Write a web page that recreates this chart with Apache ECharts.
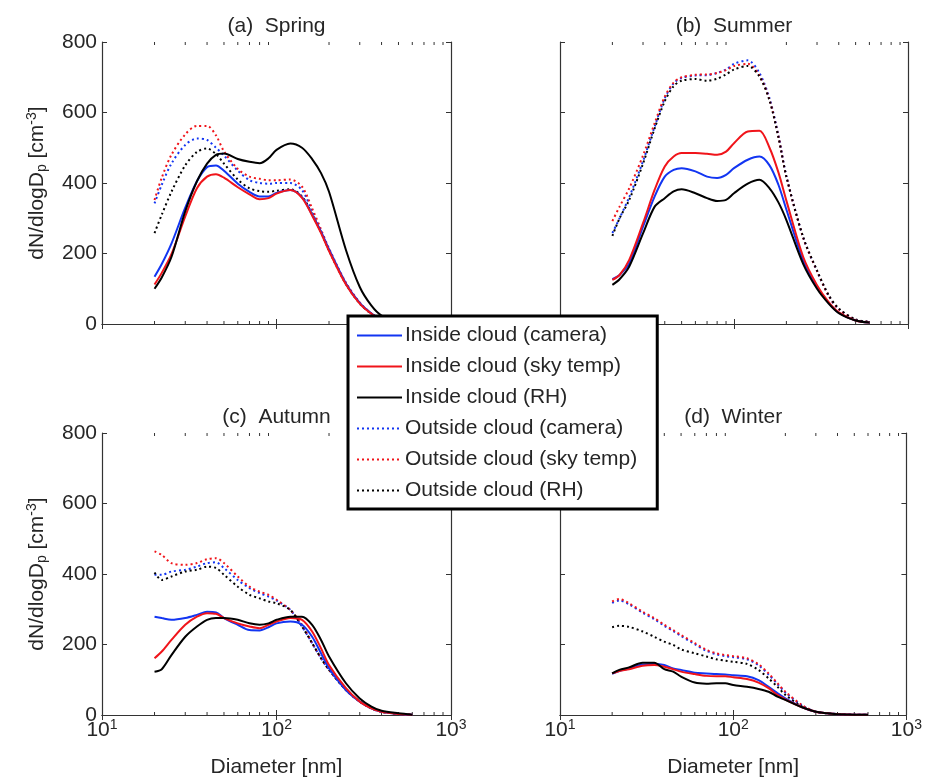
<!DOCTYPE html>
<html>
<head>
<meta charset="utf-8">
<script src="https://cdn.jsdelivr.net/npm/echarts@6/dist/echarts.min.js"></script>
<style>
  html, body { margin: 0; padding: 0; background: #fff; }
  #chart { width: 925px; height: 780px; }
</style>
</head>
<body>
<div id="chart"></div>
<script>
// diameters (nm) where the size distributions are read
const diameters = [20, 22, 25, 30, 35, 40, 45, 50, 60, 70, 80, 90, 100, 120, 140, 160, 180, 200, 250, 300, 350, 400, 500, 600]

// (a) Spring
const springInCam = [134, 170, 228, 330, 405, 445, 450, 435, 398, 375, 362, 362, 372, 380, 360, 310, 262, 212, 115, 60, 30, 13, 4, 2]
const springInSky = [112, 145, 198, 305, 385, 418, 425, 415, 388, 368, 354, 357, 370, 380, 358, 308, 258, 207, 112, 58, 29, 12, 4, 2]
const springInRH = [100, 132, 190, 320, 405, 455, 480, 484, 468, 460, 456, 470, 494, 512, 500, 468, 428, 375, 210, 105, 52, 24, 6, 2]
const springOutCam = [342, 395, 455, 508, 526, 522, 500, 478, 435, 408, 400, 398, 400, 400, 380, 320, 262, 210, 115, 60, 30, 13, 4, 2]
const springOutSky = [352, 415, 480, 538, 562, 562, 535, 490, 440, 418, 412, 408, 408, 410, 390, 328, 268, 214, 117, 61, 30, 13, 4, 2]
const springOutRH = [258, 310, 375, 450, 488, 498, 482, 455, 410, 385, 377, 375, 378, 382, 362, 312, 260, 208, 113, 58, 29, 12, 4, 2]

// (b) Summer
const summerInCam = [127, 139, 172, 276, 362, 418, 437, 442, 433, 418, 414, 423, 442, 466, 475, 450, 395, 325, 180, 105, 60, 32, 10, 4]
const summerInSky = [125, 139, 182, 286, 381, 447, 475, 485, 485, 483, 480, 489, 513, 546, 548, 500, 430, 350, 190, 110, 62, 33, 10, 4]
const summerInRH = [111, 127, 163, 257, 333, 357, 376, 382, 371, 357, 349, 352, 371, 398, 409, 385, 345, 295, 170, 100, 58, 31, 10, 4]
const summerOutCam = [258, 300, 360, 462, 560, 640, 683, 698, 705, 706, 712, 722, 738, 748, 712, 640, 535, 420, 245, 150, 80, 42, 12, 6]
const summerOutSky = [292, 333, 385, 478, 570, 645, 685, 700, 707, 708, 712, 720, 732, 738, 705, 636, 532, 418, 244, 150, 80, 42, 12, 6]
const summerOutRH = [250, 300, 352, 455, 555, 632, 675, 690, 695, 690, 696, 708, 722, 732, 702, 634, 530, 418, 246, 152, 82, 44, 13, 6]

// (c) Autumn
const autumnInCam = [279, 275, 270, 275, 284, 293, 291, 275, 256, 241, 240, 249, 260, 265, 256, 222, 175, 133, 71, 38, 19, 9, 3, 1]
const autumnInSky = [161, 180, 213, 256, 279, 289, 287, 275, 260, 251, 246, 256, 265, 275, 270, 237, 189, 142, 76, 38, 19, 9, 3, 1]
const autumnInRH = [123, 130, 170, 222, 251, 270, 275, 275, 270, 260, 256, 260, 270, 279, 279, 256, 213, 166, 90, 47, 24, 12, 5, 1]
const autumnOutCam = [398, 398, 407, 412, 421, 431, 433, 417, 383, 360, 346, 336, 325, 298, 251, 204, 161, 128, 71, 38, 19, 9, 3, 1]
const autumnOutSky = [464, 454, 431, 426, 431, 442, 445, 431, 393, 364, 350, 341, 327, 298, 256, 204, 161, 128, 71, 38, 19, 9, 3, 1]
const autumnOutRH = [404, 383, 393, 407, 412, 421, 417, 398, 364, 341, 331, 322, 317, 298, 251, 204, 161, 128, 71, 38, 19, 9, 3, 1]

// (d) Winter
const winterInCam = [117, 125, 132, 143, 145, 142, 132, 128, 120, 118, 116, 115, 113, 110, 99, 80, 62, 47, 22, 9, 5, 2, 1, 1]
const winterInSky = [118, 125, 130, 140, 142, 137, 130, 123, 116, 111, 110, 110, 107, 102, 92, 76, 57, 44, 22, 9, 5, 2, 1, 1]
const winterInRH = [118, 128, 135, 148, 148, 130, 123, 109, 92, 89, 90, 90, 85, 80, 74, 66, 52, 43, 22, 9, 5, 2, 1, 1]
const winterOutCam = [318, 325, 314, 290, 272, 253, 238, 224, 201, 182, 172, 167, 164, 158, 141, 115, 88, 64, 27, 9, 5, 3, 1, 1]
const winterOutSky = [322, 329, 317, 293, 275, 256, 241, 227, 204, 185, 175, 170, 167, 161, 144, 118, 90, 66, 28, 9, 5, 3, 1, 1]
const winterOutRH = [249, 253, 250, 237, 222, 208, 199, 186, 175, 166, 158, 154, 151, 145, 128, 104, 80, 57, 24, 9, 5, 3, 1, 1]

const panelTitles = ['(a)  Spring', '(b)  Summer', '(c)  Autumn', '(d)  Winter']
const seriesNames = [
  'Inside cloud (camera)',
  'Inside cloud (sky temp)',
  'Inside cloud (RH)',
  'Outside cloud (camera)',
  'Outside cloud (sky temp)',
  'Outside cloud (RH)'
]
const minorTicks = [20, 30, 40, 50, 60, 70, 80, 90, 200, 300, 400, 500, 600, 700, 800, 900]

const panelData = [
  [springInCam, springInSky, springInRH, springOutCam, springOutSky, springOutRH],
  [summerInCam, summerInSky, summerInRH, summerOutCam, summerOutSky, summerOutRH],
  [autumnInCam, autumnInSky, autumnInRH, autumnOutCam, autumnOutSky, autumnOutRH],
  [winterInCam, winterInSky, winterInRH, winterOutCam, winterOutSky, winterOutRH]
]

const BLUE = '#1235f2'
const RED = '#f0141a'
const BLACK = '#000000'
const AXIS = '#333333'
const TEXT = '#262626'
const FONT = 'Liberation Sans, Arial, sans-serif'
const FS = 21

const lineColors = [BLUE, RED, BLACK, BLUE, RED, BLACK]
const dotted = [2, 3]

const grids = [
  { left: 102, top: 42, width: 349, height: 282 },
  { left: 560, top: 42, width: 348, height: 282 },
  { left: 102, top: 433, width: 349, height: 282 },
  { left: 560, top: 433, width: 348, height: 282 }
]

const chart = echarts.init(document.getElementById('chart'))

const xAxes = []
const yAxes = []
const series = []

grids.forEach((g, p) => {
  const isLeft = p % 2 === 0
  const isBottom = p >= 2

  // bottom axis
  xAxes.push({
    type: 'log',
    logBase: 10,
    min: 10,
    max: 1000,
    gridIndex: p,
    position: 'bottom',
    axisLine: { lineStyle: { color: AXIS, width: 1.2 } },
    axisTick: { inside: true, length: 5, lineStyle: { color: AXIS } },
    splitLine: { show: false },
    axisLabel: {
      show: isBottom,
      margin: 3,
      color: TEXT,
      fontSize: FS,
      fontFamily: FONT,
      formatter: v => '10{sup|' + Math.round(Math.log10(v)) + '}',
      rich: {
        sup: { fontSize: 14, verticalAlign: 'top', color: TEXT, fontFamily: FONT, padding: [0, 0, 10, 0] }
      }
    },
    name: isBottom ? 'Diameter [nm]' : '',
    nameLocation: 'middle',
    nameGap: 42,
    nameTextStyle: { fontSize: FS, color: TEXT, fontFamily: FONT }
  })
  // top axis carries the panel title
  xAxes.push({
    type: 'log',
    logBase: 10,
    min: 10,
    max: 1000,
    gridIndex: p,
    position: 'top',
    axisLine: { lineStyle: { color: AXIS, width: 1.2 } },
    axisTick: { inside: true, length: 5, lineStyle: { color: AXIS } },
    axisLabel: { show: false },
    splitLine: { show: false },
    name: panelTitles[p],
    nameLocation: 'middle',
    nameGap: 5,
    nameTextStyle: { fontSize: FS, color: TEXT, fontFamily: FONT }
  })

  yAxes.push({
    type: 'value',
    min: 0,
    max: 800,
    interval: 200,
    gridIndex: p,
    position: 'left',
    axisLine: { show: true, lineStyle: { color: AXIS, width: 1.2 } },
    axisTick: { show: true, inside: true, length: 5, lineStyle: { color: AXIS } },
    splitLine: { show: false },
    axisLabel: { show: isLeft, margin: 5, color: TEXT, fontSize: FS, fontFamily: FONT },
    name: isLeft ? 'dN/dlogD{sub|p} [cm{sup|-3}]' : '',
    nameLocation: 'middle',
    nameRotate: 90,
    nameGap: 53,
    nameTextStyle: {
      fontSize: FS,
      color: TEXT,
      fontFamily: FONT,
      rich: {
        sub: { fontSize: 14, verticalAlign: 'bottom', color: TEXT, fontFamily: FONT, padding: [8, 0, 0, 0] },
        sup: { fontSize: 14, verticalAlign: 'top', color: TEXT, fontFamily: FONT, padding: [0, 0, 10, 0] }
      }
    }
  })
  yAxes.push({
    type: 'value',
    min: 0,
    max: 800,
    interval: 200,
    gridIndex: p,
    position: 'right',
    axisLine: { show: true, lineStyle: { color: AXIS, width: 1.2 } },
    axisTick: { show: true, inside: true, length: 5, lineStyle: { color: AXIS } },
    splitLine: { show: false },
    axisLabel: { show: false }
  })

  panelData[p].forEach((values, i) => {
    series.push({
      name: seriesNames[i],
      type: 'line',
      xAxisIndex: p * 2,
      yAxisIndex: p * 2,
      data: diameters.map((d, k) => [d, values[k]]),
      symbol: 'none',
      smooth: 0.3,
      silent: true,
      z: i < 3 ? 3 : 2,
      itemStyle: { color: lineColors[i] },
      lineStyle: {
        color: lineColors[i],
        width: 2,
        type: i < 3 ? 'solid' : dotted
      }
    })
  })

  // minor log ticks on bottom and top edges
  series.push({
    type: 'custom',
    xAxisIndex: p * 2,
    yAxisIndex: p * 2,
    silent: true,
    z: 1,
    data: minorTicks.map(v => [v, 0]),
    renderItem: (params, api) => {
      const b = api.coord([api.value(0), 0])
      const t = api.coord([api.value(0), 800])
      const style = { stroke: AXIS, lineWidth: 1 }
      return {
        type: 'group',
        children: [
          { type: 'line', shape: { x1: b[0], y1: b[1], x2: b[0], y2: b[1] - 3 }, style },
          { type: 'line', shape: { x1: t[0], y1: t[1], x2: t[0], y2: t[1] + 3 }, style }
        ]
      }
    }
  })
})

const option = {
  animation: false,
  backgroundColor: '#fff',
  textStyle: { fontFamily: FONT },
  grid: grids.map(g => Object.assign({ containLabel: false }, g)),
  xAxis: xAxes,
  yAxis: yAxes,
  legend: {
    data: seriesNames,
    orient: 'vertical',
    left: 348,
    top: 316,
    backgroundColor: '#fff',
    borderColor: '#000',
    borderWidth: 3,
    padding: [9, 20, 8, 8],
    itemWidth: 45,
    itemHeight: 20,
    itemGap: 10,
    selectedMode: false,
    // hide the marker that ECharts adds on legend lines
    itemStyle: { opacity: 0 },
    textStyle: { fontSize: FS, color: TEXT, fontFamily: FONT, padding: [0, 0, 0, -2] }
  },
  series: series
}

chart.setOption(option)
</script>
</body>
</html>
